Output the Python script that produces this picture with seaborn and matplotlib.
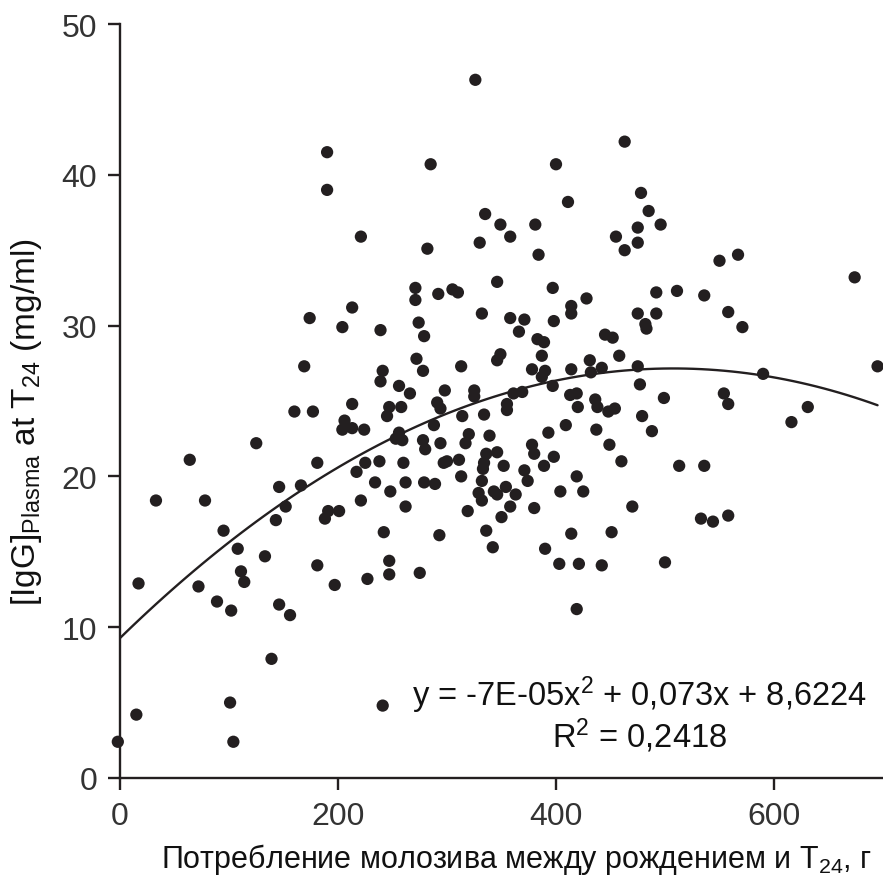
import matplotlib
matplotlib.use("Agg")
import matplotlib.pyplot as plt
import pandas as pd
import seaborn as sns

# colostrum intake between birth and T24 (g) and plasma IgG at T24 (mg/ml)
intake_g = [
    190, 190, 174,
    169, 160, 177, 125, 64, 181, 146, 166, 33, 78, 152, 143, 191, 188, 95, 108,
    133, 181, 111, 114, 17, 72, 197, 89, 102, 146, 156,
    139, 101, 15, -2, 104, 241,
    204, 239, 279, 366, 383, 389, 272, 278, 313, 349, 346, 387, 378, 390, 387,
    241, 239, 256, 266, 298, 325, 325, 213, 247, 258, 245, 291, 294, 314, 334,
    361, 369, 355, 355, 397, 206, 204, 213, 224, 288, 256, 253, 259, 278, 280,
    294, 320, 317, 339, 393, 378, 380, 336, 346, 334, 352, 225, 217, 238, 260,
    297, 300, 311, 333, 389, 398, 371, 313,
    201, 234, 262, 279, 289, 332, 374, 248, 221, 262, 329, 332, 343, 346, 354,
    363, 358, 380, 319, 350, 242, 293, 336, 342, 390, 247, 247, 275, 227,
    335, 349, 381, 221, 330, 358, 282, 384, 346, 397, 271, 271, 292, 305, 310,
    213, 332, 358, 371, 398, 274,
    326, 285, 400, 463,
    478, 411, 485, 496, 475, 455, 475, 463, 550, 567, 492, 511, 536, 428, 414,
    414, 475, 492, 482, 483, 558, 571, 445, 452, 458, 431, 414, 432, 442, 475,
    590, 477, 413, 419, 420, 436, 438, 448, 454, 499, 554, 558, 479, 409, 437,
    488, 449, 460, 513, 536, 419,
    404, 425, 470, 533, 544, 558, 414, 451, 403, 421, 442, 500, 419,
    674, 695, 631, 616,
]
igg_mg_ml = [
    41.5, 39.0, 30.5,
    27.3, 24.3, 24.3, 22.2, 21.1, 20.9, 19.3, 19.4, 18.4, 18.4, 18.0, 17.1, 17.7, 17.2, 16.4, 15.2,
    14.7, 14.1, 13.7, 13.0, 12.9, 12.7, 12.8, 11.7, 11.1, 11.5, 10.8,
    7.9, 5.0, 4.2, 2.4, 2.4, 4.8,
    29.9, 29.7, 29.3, 29.6, 29.1, 28.9, 27.8, 27.0, 27.3, 28.1, 27.7, 28.0, 27.1, 27.0, 26.6,
    27.0, 26.3, 26.0, 25.5, 25.7, 25.7, 25.3, 24.8, 24.6, 24.6, 24.0, 24.9, 24.5, 24.0, 24.1,
    25.5, 25.6, 24.8, 24.4, 26.0, 23.7, 23.1, 23.2, 23.1, 23.4, 22.9, 22.5, 22.4, 22.4, 21.8,
    22.2, 22.8, 22.2, 22.7, 22.9, 22.1, 21.5, 21.5, 21.6, 20.9, 20.7, 20.9, 20.3, 21.0, 20.9,
    20.9, 21.0, 21.1, 20.5, 20.7, 21.3, 20.4, 20.0,
    17.7, 19.6, 19.6, 19.6, 19.5, 19.7, 19.7, 19.0, 18.4, 18.0, 18.9, 18.4, 19.0, 18.8, 19.3,
    18.8, 18.0, 17.9, 17.7, 17.3, 16.3, 16.1, 16.4, 15.3, 15.2, 14.4, 13.5, 13.6, 13.2,
    37.4, 36.7, 36.7, 35.9, 35.5, 35.9, 35.1, 34.7, 32.9, 32.5, 32.5, 31.7, 32.1, 32.4, 32.2,
    31.2, 30.8, 30.5, 30.4, 30.3, 30.2,
    46.3, 40.7, 40.7, 42.2,
    38.8, 38.2, 37.6, 36.7, 36.5, 35.9, 35.5, 35.0, 34.3, 34.7, 32.2, 32.3, 32.0, 31.8, 31.3,
    30.8, 30.8, 30.8, 30.1, 29.8, 30.9, 29.9, 29.4, 29.2, 28.0, 27.7, 27.1, 26.9, 27.2, 27.3,
    26.8, 26.1, 25.4, 25.5, 24.6, 25.1, 24.6, 24.3, 24.5, 25.2, 25.5, 24.8, 24.0, 23.4, 23.1,
    23.0, 22.1, 21.0, 20.7, 20.7, 20.0,
    19.0, 19.0, 18.0, 17.2, 17.0, 17.4, 16.2, 16.3, 14.2, 14.2, 14.1, 14.3, 11.2,
    33.2, 27.3, 24.6, 23.6,
]

x_ticks = [0, 200, 400, 600]
y_ticks = [0, 10, 20, 30, 40, 50]
equation_text = "y = -7E-05x$^2$ + 0,073x + 8,6224"
r2_text = "R$^2$ = 0,2418"

INK = "#231f20"


def main():
    sns.set_style("ticks")
    plt.rcParams["font.family"] = ["Liberation Sans", "DejaVu Sans"]
    plt.rcParams["mathtext.fontset"] = "custom"
    plt.rcParams["mathtext.rm"] = "Liberation Sans"
    plt.rcParams["mathtext.it"] = "Liberation Sans:italic"
    plt.rcParams["mathtext.bf"] = "Liberation Sans:bold"

    df = pd.DataFrame({"intake": intake_g, "igg": igg_mg_ml})

    fig = plt.figure(figsize=(8.83, 8.78), dpi=100)
    ax = fig.add_axes([0.1359, 0.1128, 0.8641, 0.8587])

    sns.scatterplot(data=df, x="intake", y="igg", s=78, color=INK,
                    edgecolor="none", ax=ax, clip_on=False, zorder=3)
    # quadratic trend line, fitted by seaborn
    sns.regplot(data=df, x="intake", y="igg", order=2, ci=None, scatter=False,
                line_kws=dict(color=INK, lw=1.7), ax=ax)

    ax.set_xlim(0, 700)
    ax.set_ylim(0, 50)
    ax.set_xticks(x_ticks)
    ax.set_yticks(y_ticks)
    ax.tick_params(axis="both", direction="out", length=8.5, width=1.7,
                   color=INK, labelsize=23, labelcolor="#333333", pad=8)

    sns.despine(ax=ax)
    for side in ("left", "bottom"):
        ax.spines[side].set_linewidth(1.7)
        ax.spines[side].set_color(INK)

    ax.set_xlabel("Потребление молозива между рождением и T$_{24}$, г",
                  fontsize=22, color="#111111")
    ax.xaxis.set_label_coords(0.52, -0.083)
    ax.set_ylabel("[IgG]$_{\\mathrm{Plasma}}$ at T$_{24}$ (mg/ml)",
                  fontsize=24, color="#111111")
    ax.yaxis.set_label_coords(-0.1, 0.473)

    ax.text(0.681, 0.111, equation_text, transform=ax.transAxes,
            ha="center", va="center", fontsize=23.5, color="#111111")
    ax.text(0.681, 0.057, r2_text, transform=ax.transAxes,
            ha="center", va="center", fontsize=23.5, color="#111111")

    fig.savefig("out.png", dpi=100)
    plt.close(fig)


if __name__ == "__main__":
    main()
